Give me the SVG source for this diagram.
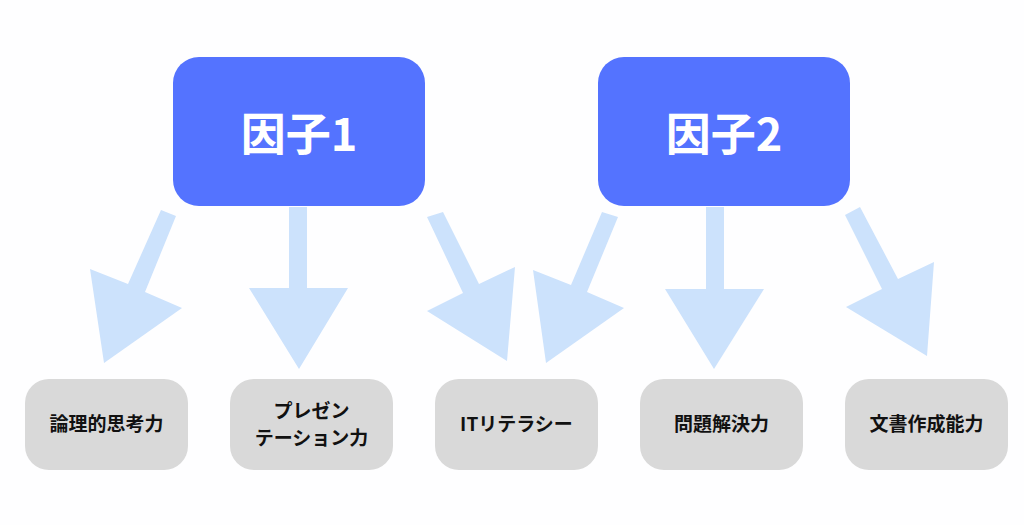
<svg xmlns="http://www.w3.org/2000/svg" width="1024" height="525" viewBox="0 0 1024 525">
<style>
.factor{fill:#5473FF}
.item{fill:#D9D9D9}
.ft{font-family:"Noto Sans CJK JP","Noto Sans",sans-serif;font-weight:700;font-size:45px;fill:#FFFFFF;text-anchor:middle}
.it{font-family:"Noto Sans CJK JP","Noto Sans",sans-serif;font-weight:700;font-size:19px;fill:#111111;text-anchor:middle}
.arrow{fill:#CCE2FC}
</style>
<rect width="1024" height="525" fill="#FEFEFF"/>
<g id="connectors">
<polygon class="arrow" points="161,210 176,216 145,292 182,308 104,363 90,269 128,284"/>
<polygon class="arrow" points="289,207 307,207 307,288 348,288 299,369 249,288 289,288"/>
<polygon class="arrow" points="427,217 443,212 479,284 515,267 507,361 427,311 463,293"/>
<polygon class="arrow" points="602,212 618,217 587,292 624,308 546,363 533,270 571,285"/>
<polygon class="arrow" points="706,207 724,207 724,289 764,289 714,369 665,289 706,289"/>
<polygon class="arrow" points="845,215 860,207 898,279 934,262 927,356 846,307 882,289"/>
</g>
<g id="factor1"><rect class="factor" x="173" y="57" width="252" height="149" rx="26"/><text class="ft" x="299" y="151">因子1</text></g>
<g id="factor2"><rect class="factor" x="598" y="57" width="252" height="149" rx="26"/><text class="ft" x="724" y="151">因子2</text></g>
<g id="item1"><rect class="item" x="25" y="379" width="163" height="91" rx="24"/><text class="it" x="106.5" y="431">論理的思考力</text></g>
<g id="item2"><rect class="item" x="230" y="379" width="163" height="91" rx="24"/><text class="it" x="311.5" y="418">プレゼン</text><text class="it" x="311.5" y="445">テーション力</text></g>
<g id="item3"><rect class="item" x="435" y="379" width="163" height="91" rx="24"/><text class="it" x="516.5" y="431">ITリテラシー</text></g>
<g id="item4"><rect class="item" x="640" y="379" width="163" height="91" rx="24"/><text class="it" x="721.5" y="431">問題解決力</text></g>
<g id="item5"><rect class="item" x="845" y="379" width="163" height="91" rx="24"/><text class="it" x="926.5" y="431">文書作成能力</text></g>
</svg>
